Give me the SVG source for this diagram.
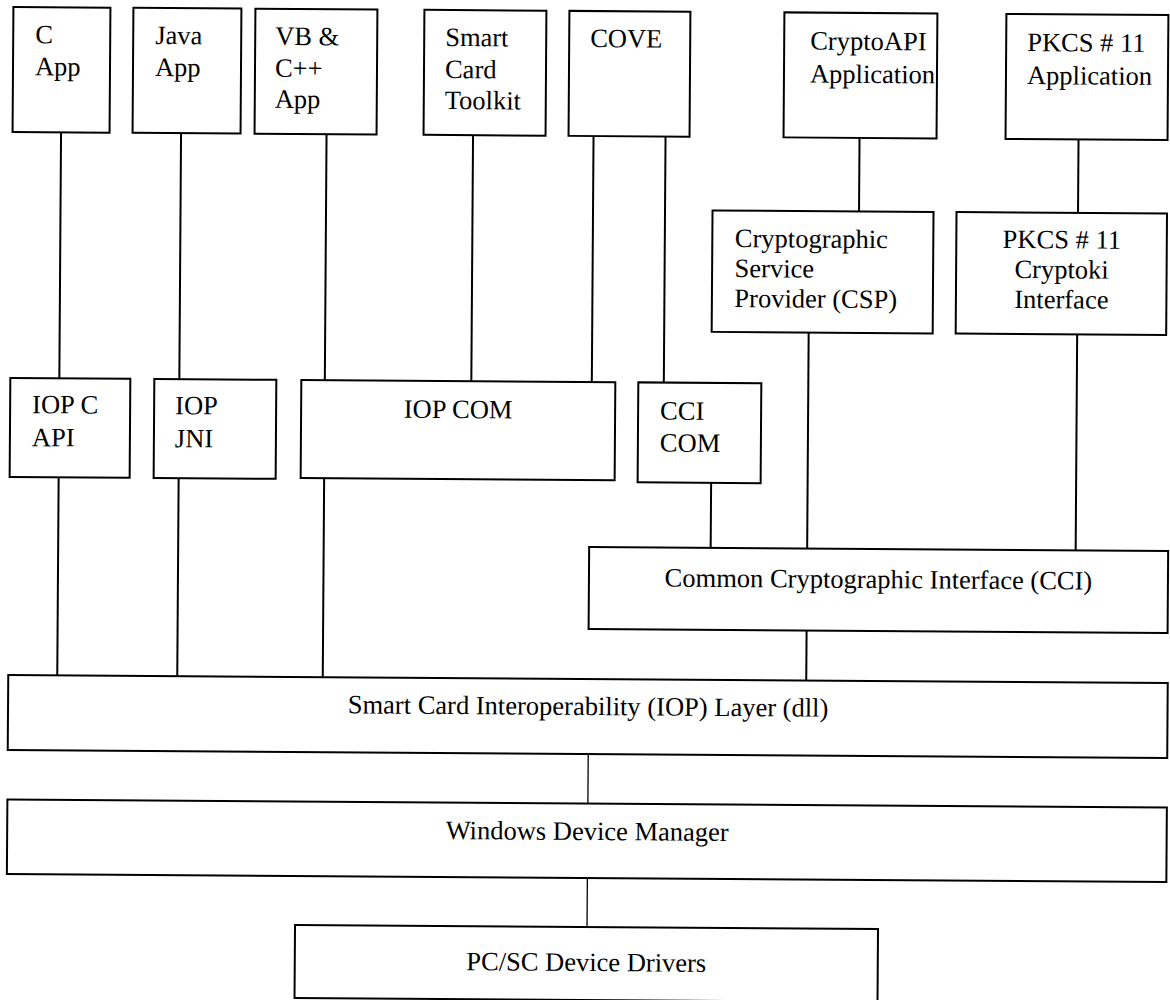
<svg xmlns="http://www.w3.org/2000/svg" width="1170" height="1000" viewBox="0 0 1170 1000">
<style>
.b{fill:#fff;stroke:#000;stroke-width:2}
.t{font-family:"Liberation Serif","Times New Roman",serif;font-size:26.5px;fill:#000}
.m{text-anchor:middle}
.c{stroke:#000;stroke-width:2;fill:none}
.c2{stroke:#000;stroke-width:1.3;fill:none}
</style>
<rect width="1170" height="1000" fill="#fff"/>
<g transform="rotate(0.4 585 500)">
<g id="connectors">
<line class="c" x1="58.5" y1="136" x2="58.5" y2="382"/>
<line class="c" x1="58.5" y1="481" x2="58.5" y2="679"/>
<line class="c" x1="178.5" y1="136" x2="178.5" y2="382"/>
<line class="c" x1="178.5" y1="481" x2="178.5" y2="679"/>
<line class="c" x1="324" y1="136" x2="324" y2="382"/>
<line class="c" x1="324" y1="480" x2="324" y2="679"/>
<line class="c" x1="470.5" y1="136" x2="470.5" y2="382"/>
<line class="c" x1="591" y1="136" x2="591" y2="382"/>
<line class="c" x1="663" y1="136" x2="663" y2="382"/>
<line class="c" x1="857" y1="136" x2="857" y2="209.5"/>
<line class="c" x1="1076" y1="136" x2="1076" y2="209.5"/>
<line class="c" x1="807.5" y1="331" x2="807.5" y2="547"/>
<line class="c" x1="1076" y1="331" x2="1076" y2="547"/>
<line class="c" x1="711" y1="482" x2="711" y2="547"/>
<line class="c" x1="807.5" y1="629" x2="807.5" y2="679"/>
<line class="c2" x1="590" y1="754" x2="590" y2="803.5"/>
<line class="c2" x1="590" y1="878" x2="590" y2="927"/>
</g>
<g id="c-app"><rect class="b" x="10" y="11" width="97" height="125"/><text class="t" x="32" y="47">C</text><text class="t" x="32" y="79">App</text></g>
<g id="java-app"><rect class="b" x="130" y="11" width="108" height="125"/><text class="t" x="152" y="47">Java</text><text class="t" x="152" y="79">App</text></g>
<g id="vb-app"><rect class="b" x="252" y="11" width="122" height="125"/><text class="t" x="272" y="47">VB &amp;</text><text class="t" x="272" y="79">C++</text><text class="t" x="272" y="110">App</text></g>
<g id="smart-card-toolkit"><rect class="b" x="421" y="11" width="122" height="125"/><text class="t" x="442" y="47">Smart</text><text class="t" x="442" y="79">Card</text><text class="t" x="442" y="110">Toolkit</text></g>
<g id="cove"><rect class="b" x="566" y="11" width="121" height="125"/><text class="t" x="587" y="47">COVE</text></g>
<g id="cryptoapi-app"><rect class="b" x="781" y="11" width="153" height="125"/><text class="t" x="807" y="48">CryptoAPI</text><text class="t" x="807" y="81">Application</text></g>
<g id="pkcs11-app"><rect class="b" x="1003" y="11" width="162" height="125"/><text class="t" x="1024" y="48">PKCS # 11</text><text class="t" x="1024" y="81">Application</text></g>
<g id="csp"><rect class="b" x="710.5" y="209.5" width="221" height="121.5"/><text class="t" x="733" y="246">Cryptographic</text><text class="t" x="733" y="276">Service</text><text class="t" x="733" y="306">Provider (CSP)</text></g>
<g id="cryptoki"><rect class="b" x="954.5" y="209.5" width="210.5" height="121.5"/><text class="t m" x="1060" y="245">PKCS # 11</text><text class="t m" x="1060" y="275">Cryptoki</text><text class="t m" x="1060" y="305">Interface</text></g>
<g id="iop-c-api"><rect class="b" x="9.5" y="382" width="120" height="99"/><text class="t" x="31.5" y="417">IOP C</text><text class="t" x="31.5" y="450">API</text></g>
<g id="iop-jni"><rect class="b" x="153.5" y="382" width="122" height="99"/><text class="t" x="174.5" y="417">IOP</text><text class="t" x="174.5" y="450">JNI</text></g>
<g id="iop-com"><rect class="b" x="300.5" y="382" width="314" height="98"/><text class="t m" x="457.5" y="419">IOP COM</text></g>
<g id="cci-com"><rect class="b" x="637.5" y="382" width="123" height="100"/><text class="t" x="659.5" y="419">CCI</text><text class="t" x="659.5" y="451">COM</text></g>
<g id="cci"><rect class="b" x="589.5" y="547" width="579" height="82"/><text class="t m" x="879" y="586">Common Cryptographic Interface (CCI)</text></g>
<g id="iop-layer"><rect class="b" x="9.5" y="679" width="1159.5" height="75"/><text class="t m" x="589.5" y="715">Smart Card Interoperability (IOP) Layer (dll)</text></g>
<g id="windows-device-manager"><rect class="b" x="9.5" y="803.5" width="1159.5" height="74.5"/><text class="t m" x="589.5" y="840">Windows Device Manager</text></g>
<g id="pcsc-drivers"><rect class="b" x="298" y="927" width="583" height="73"/><text class="t m" x="589.5" y="971">PC/SC Device Drivers</text></g>
</g>
</svg>
